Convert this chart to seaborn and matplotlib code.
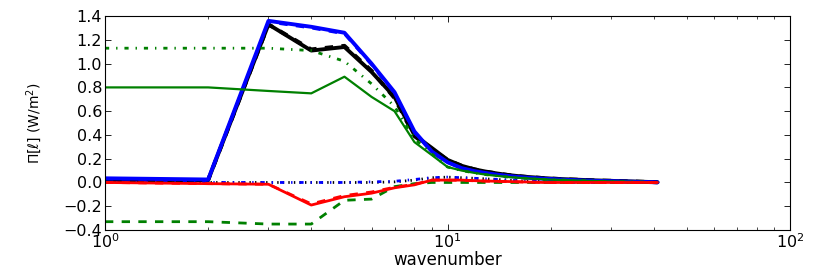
"""Spectral flux by wavenumber, log x axis."""
import numpy as np
import pandas as pd
import matplotlib
matplotlib.use("Agg")
import matplotlib.pyplot as plt
import seaborn as sns

# wavenumbers 1..41
wavenumber = list(range(1, 42))

tail_black = [0.19, 0.14, 0.11, 0.09, 0.075, 0.063, 0.054, 0.047, 0.042, 0.037,
              0.033, 0.030, 0.027, 0.025, 0.023, 0.021, 0.019, 0.017, 0.016, 0.015,
              0.014, 0.012, 0.011, 0.010, 0.009, 0.008, 0.007, 0.006, 0.005, 0.004,
              0.003, 0.002]
tail_blue = [0.17, 0.12, 0.095, 0.078, 0.065, 0.055, 0.047, 0.041, 0.036, 0.032,
             0.029, 0.026, 0.023, 0.021, 0.019, 0.017, 0.016, 0.014, 0.013, 0.012,
             0.011, 0.010, 0.009, 0.008, 0.007, 0.006, 0.005, 0.004, 0.004, 0.003,
             0.002, 0.001]
tail_green = [0.13, 0.10, 0.08, 0.065, 0.055, 0.046, 0.040, 0.035, 0.031, 0.027,
              0.024, 0.022, 0.020, 0.018, 0.016, 0.015, 0.013, 0.012, 0.011, 0.010,
              0.009, 0.008, 0.007, 0.007, 0.006, 0.005, 0.004, 0.004, 0.003, 0.002,
              0.002, 0.001]
tail_zero = [0.0] * 32

total_solid = [0.02, 0.02, 1.33, 1.11, 1.14, 0.93, 0.72, 0.40, 0.29] + tail_black
total_dashed = [0.02, 0.02, 1.33, 1.12, 1.15, 0.94, 0.71, 0.39, 0.28] + tail_black
total_dotted = [0.0, 0.0, 0.0, 0.0, 0.0, 0.0, 0.005, 0.02, 0.04] + \
    [0.045, 0.04, 0.035, 0.03, 0.025, 0.02, 0.015, 0.012, 0.01, 0.008] + [0.0] * 22

blue_solid = [0.035, 0.025, 1.36, 1.31, 1.26, 1.00, 0.76, 0.43, 0.26] + tail_blue
blue_dashed = [0.03, 0.02, 1.35, 1.30, 1.25, 0.99, 0.75, 0.42, 0.25] + tail_blue
blue_dashdot = [0.0, 0.0, 0.0, 0.0, 0.0, 0.005, 0.01, 0.025, 0.04] + \
    [0.045, 0.04, 0.035, 0.03, 0.025, 0.02, 0.015, 0.012, 0.01, 0.008] + [0.0] * 22

green_solid = [0.80, 0.80, 0.77, 0.75, 0.89, 0.72, 0.60, 0.34, 0.23] + tail_green
green_dashed = [-0.33, -0.33, -0.35, -0.35, -0.15, -0.14, -0.035, -0.01, 0.0] + tail_zero
green_dashdot = [1.13, 1.13, 1.13, 1.11, 1.02, 0.83, 0.64, 0.37, 0.24] + tail_green

red_solid = [0.0, -0.01, -0.015, -0.19, -0.12, -0.09, -0.045, -0.02, 0.02] + \
    [0.02, 0.02, 0.015, 0.012, 0.01, 0.008, 0.006, 0.004, 0.002] + [0.0] * 23
red_dashed = [0.0, -0.01, -0.015, -0.18, -0.11, -0.08, -0.04, -0.015, 0.02] + \
    [0.02, 0.018, 0.014, 0.011, 0.009, 0.007, 0.005, 0.003, 0.002] + [0.0] * 23

yticks = [-0.4, -0.2, 0.0, 0.2, 0.4, 0.6, 0.8, 1.0, 1.2, 1.4]

sns.set_style("ticks")
plt.rcParams.update({
    "font.family": ["DejaVu Sans"],
    "text.color": "black",
    "axes.labelcolor": "black",
    "xtick.color": "black",
    "ytick.color": "black",
    "axes.edgecolor": "black",
    "lines.dashed_pattern": [6, 6],
    "lines.dashdot_pattern": [3, 5, 1, 5],
    "lines.dotted_pattern": [1, 3],
    "lines.scale_dashes": False,
    "xtick.direction": "in",
    "ytick.direction": "in",
    "xtick.top": True,
    "ytick.right": True,
})

fig = plt.figure(figsize=(8.3, 2.73), dpi=100)
ax = fig.add_axes([0.1265, 0.1575, 0.8255, 0.7835])

series = [
    (total_solid, "black", "-", 2.8),
    (total_dashed, "black", "--", 2.8),
    (total_dotted, "black", ":", 2.0),
    (blue_solid, "blue", "-", 2.8),
    (blue_dashed, "blue", "--", 2.0),
    (blue_dashdot, "blue", "-.", 2.0),
    (green_solid, "green", "-", 1.6),
    (green_dashed, "green", "--", 2.0),
    (green_dashdot, "green", "-.", 2.0),
    (red_solid, "red", "-", 2.0),
    (red_dashed, "red", "--", 2.0),
]

for vals, color, ls, lw in series:
    sns.lineplot(x=wavenumber, y=vals, ax=ax, color=color, linestyle=ls,
                 linewidth=lw, estimator=None, legend=False)

ax.set_xscale("log")
ax.set_xlim(1, 100)
ax.set_ylim(-0.4, 1.4)
ax.set_yticks(yticks)
ax.set_yticklabels([f"{t:.1f}".replace("-", "\u2212") for t in yticks])
ax.tick_params(axis="both", which="major", labelsize=11.5, length=4, width=0.6, pad=2)
ax.tick_params(axis="x", which="minor", length=2, width=0.5)
for sp in ax.spines.values():
    sp.set_linewidth(0.8)

ax.set_xlabel("wavenumber", fontsize=12, labelpad=0)
ax.set_ylabel(r"$\Pi[\ell]$ (W/m$^2$)", fontsize=10, labelpad=14)

fig.savefig("out.png", dpi=100)
